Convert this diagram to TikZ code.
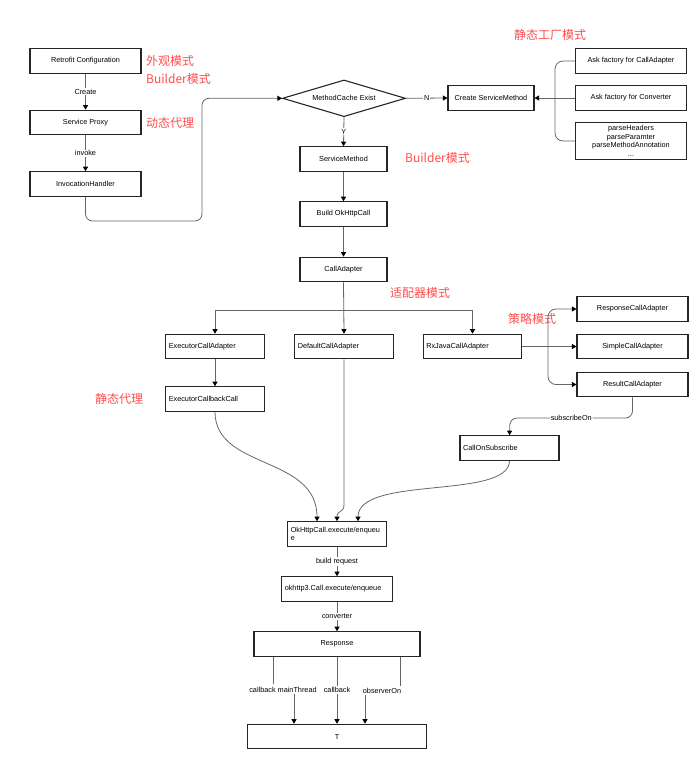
\documentclass[tikz,border=0pt]{standalone}
\usepackage{fontspec}
\setsansfont{Liberation Sans}
\newfontfamily\cjk{Noto Sans CJK SC}
\usetikzlibrary{positioning,calc,arrows.meta,shapes.geometric}
\definecolor{patternred}{RGB}{255,77,77}

\begin{document}
\begin{tikzpicture}[x=1pt, y=-1pt, nodes={inner sep=0},
    box/.style={draw=black!85, line width=1.1pt, minimum height=24.5pt,
      font=\sffamily\fontsize{7.3}{8.7}\selectfont, align=center},
    lbox/.style={box, inner xsep=3pt, text width=#1-6pt, align=left},
    line/.style={draw=black!60, line width=0.8pt},
    conn/.style={line, -{Triangle[length=4.5pt,width=5pt,color=black]}},
    lbl/.style={fill=white, inner sep=1pt, font=\sffamily\fontsize{7.3}{8.7}\selectfont},
    pattern/.style={anchor=west, text=patternred, font=\cjk\fontsize{12}{12}\selectfont}]
  \useasboundingbox (0,0) rectangle (700,761);

  \node[box, minimum width=111pt] (config) at (85.5,61) {Retrofit Configuration};
  \node[box, minimum width=111pt] (proxy) at (85.5,122.5) {Service Proxy};
  \node[box, minimum width=111pt] (handler) at (85.5,184) {InvocationHandler};
  \node[box, diamond, aspect=3.4, minimum width=123pt, minimum height=36.7pt]
    (cache) at (344,98.3) {MethodCache Exist};
  \node[box, minimum width=86pt] (create) at (491,98) {Create ServiceMethod};
  \node[box, minimum width=111pt] (askadapter) at (631,61) {Ask factory for CallAdapter};
  \node[box, minimum width=111pt] (askconv) at (631,98) {Ask factory for Converter};
  \node[box, minimum width=111pt, minimum height=36.5pt] (parse) at (631,141)
    {parseHeaders\\parseParamter\\parseMethodAnnotation\\...};
  \node[box, minimum width=87pt] (smethod) at (343.5,159) {ServiceMethod};
  \node[box, minimum width=87pt] (build) at (343.5,214) {Build OkHttpCall};
  \node[box, minimum width=87pt] (cadapter) at (343.5,269.5) {CallAdapter};
  \node[lbox=98.5pt] (exadapter) at (215,346.5) {ExecutorCallAdapter};
  \node[lbox=98.5pt] (defadapter) at (344,346.5) {DefaultCallAdapter};
  \node[lbox=98.5pt] (rxadapter) at (472.5,346.5) {RxJavaCallAdapter};
  \node[lbox=98.5pt] (excallback) at (215,399) {ExecutorCallbackCall};
  \node[box, minimum width=111pt] (respadapter) at (632.5,309) {ResponseCallAdapter};
  \node[box, minimum width=111pt] (simpleadapter) at (632.5,346.5) {SimpleCallAdapter};
  \node[box, minimum width=111pt] (resultadapter) at (632.5,384.5) {ResultCallAdapter};
  \node[lbox=99pt] (onsub) at (509.5,448) {CallOnSubscribe};
  \node[lbox=98.5pt] (okcall) at (337,534) {OkHttpCall.execute/enqueu\\e};
  \node[lbox=110.5pt] (okhttp) at (337,589) {okhttp3.Call.execute/enqueue};
  \node[box, minimum width=166pt] (response) at (337,644) {Response};
  \node[box, minimum width=178.5pt] (T) at (337,736.5) {T};

  \node[pattern] (facade) at (146,61) {外观模式};
  \node[pattern] (builder) at (146,79) {Builder模式};
  \node[pattern] (dynproxy) at (146,123) {动态代理};
  \node[pattern] (factory) at (514,35) {静态工厂模式};
  \node[pattern] (builder2) at (405,158) {Builder模式};
  \node[pattern] (adapterpat) at (390,293) {适配器模式};
  \node[pattern] (strategy) at (508,319) {策略模式};
  \node[pattern] (staticproxy) at (95,399) {静态代理};

  \coordinate (loop) at (202,221);
  \coordinate (fork) at (555,98);
  \coordinate (split) at (344,310);
  \coordinate (sfork) at (548,346.5);
  \coordinate (subturn) at (510,418);

  \draw[conn] (config) -- node[lbl]{Create} (proxy);
  \draw[conn] (proxy) -- node[lbl]{invoke} (handler);
  \draw[conn, rounded corners=7pt] (handler.south) |- (loop) |- (cache.west);
  \draw[conn] (cache.east) -- node[lbl]{N} (create.west);
  \draw[conn] (cache.south) -- node[lbl]{Y} (smethod.north);
  \draw[line, rounded corners=8pt] (askadapter.west) -| (fork) |- (parse.west);
  \draw[conn] (askconv.west) -- (create.east);
  \draw[conn] (smethod) -- (build);
  \draw[conn] (build) -- (cadapter);
  \draw[conn] (cadapter.south) -- (defadapter.north);
  \draw[conn] (split) -| (exadapter.north);
  \draw[conn] (split) -| (rxadapter.north);
  \draw[conn] (exadapter) -- (excallback);
  \draw[line] (rxadapter.east) -- (sfork);
  \draw[conn, rounded corners=8pt] (sfork) |- (respadapter.west);
  \draw[conn] (sfork) -- (simpleadapter.west);
  \draw[conn, rounded corners=8pt] (sfork) |- (resultadapter.west);
  \draw[conn, rounded corners=7pt] (resultadapter.south) |- node[lbl, pos=0.75]{subscribeOn} (subturn) -- (onsub.north);

  \draw[conn] (excallback.south) .. controls (215,470) and (317,455) .. ([xshift=-20pt]okcall.north);
  \draw[conn] (defadapter.south) -- (344,505) .. controls (344,513) and (337,510) .. (okcall.north);
  \draw[conn] (onsub.south) .. controls (509,500) and (358,475) .. ([xshift=21pt]okcall.north);

  \draw[conn] (okcall) -- node[lbl]{build request} (okhttp);
  \draw[conn] (okhttp) -- node[lbl]{converter} (response);

  \node[lbl] (cbmain) at (283,690) {callback mainThread};
  \node[lbl] (cb) at (337,690) {callback};
  \node[lbl] (obs) at (382,691) {observerOn};
  \draw[line] ([xshift=-64pt]response.south) -- +(0,27);
  \draw[conn] ([xshift=11pt]cbmain.south) -- ([xshift=-43pt]T.north);
  \draw[line] (response.south) -- (cb.north);
  \draw[conn] (cb.south) -- (T.north);
  \draw[line] ([xshift=63pt]response.south) -- +(0,29);
  \draw[conn] ([xshift=-17pt]obs.south) -- ([xshift=28pt]T.north);
\end{tikzpicture}
\end{document}
